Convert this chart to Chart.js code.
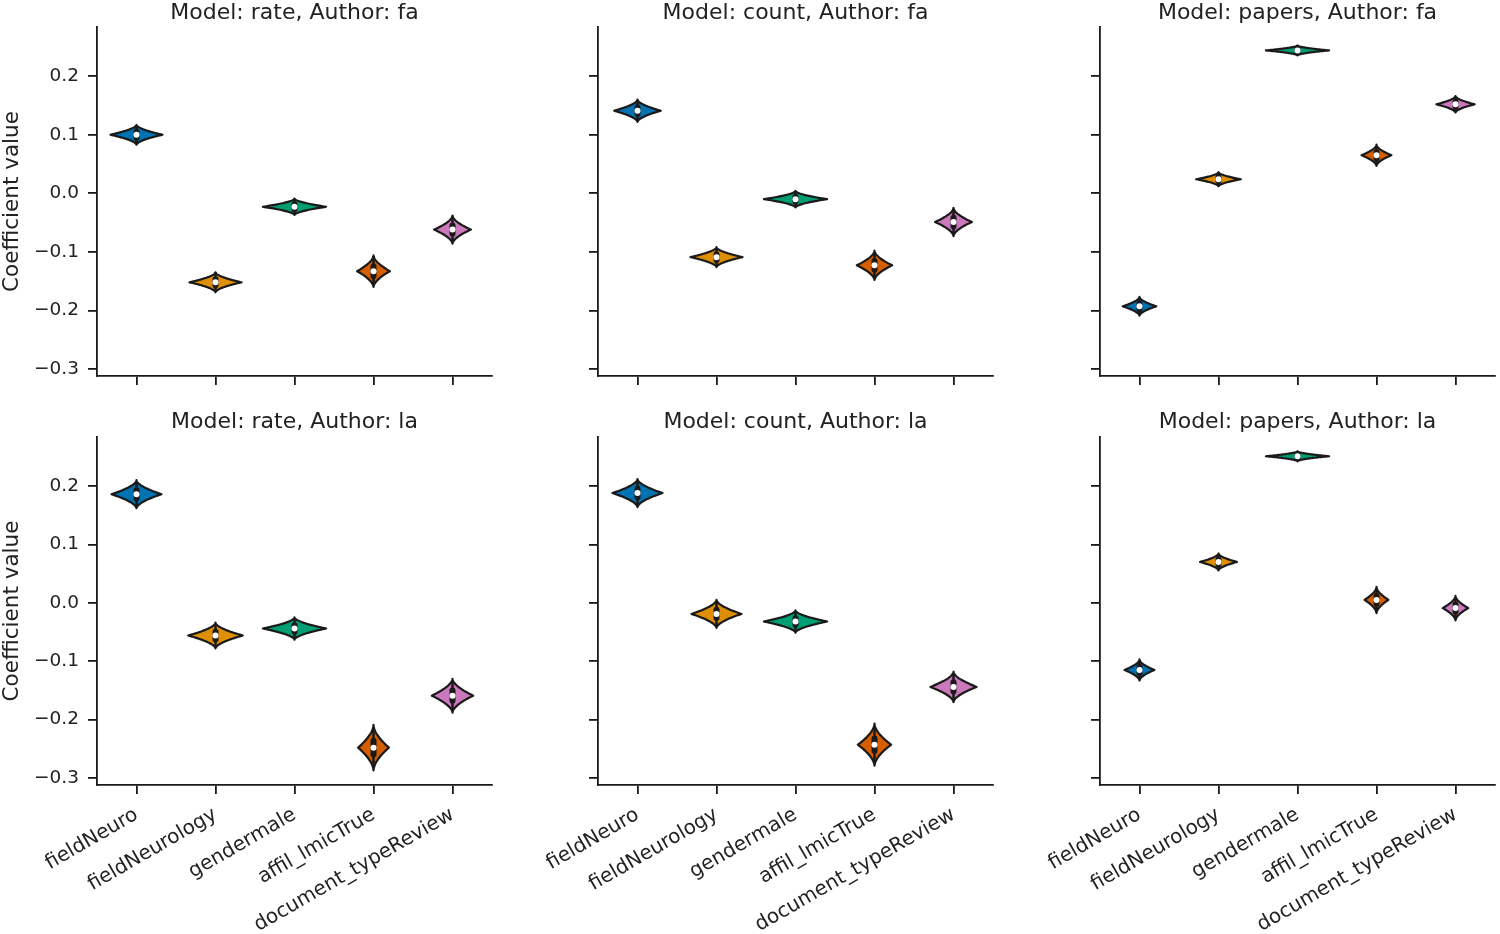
<!DOCTYPE html>
<html>
<head>
<meta charset="utf-8">
<script src="https://cdn.jsdelivr.net/npm/chart.js@4.4.1/dist/chart.umd.min.js"></script>
<style>
  html, body { margin: 0; padding: 0; background: #fff; }
  #wrap { position: relative; width: 1500px; height: 934px; background: #fff; }
  .cell { position: absolute; }
</style>
</head>
<body>
<div id="wrap"></div>
<script>
// categories and panel labels
const categories = ['fieldNeuro', 'fieldNeurology', 'gendermale', 'affil_lmicTrue', 'document_typeReview'];
const models = ['rate', 'count', 'papers'];
const authors = ['fa', 'la'];
const yTicks = [-0.3, -0.2, -0.1, 0.0, 0.1, 0.2];

// coefficient medians, one array per panel
const rateFa = [0.100, -0.152, -0.023, -0.133, -0.062];
const countFa = [0.141, -0.109, -0.010, -0.123, -0.049];
const papersFa = [-0.193, 0.024, 0.244, 0.065, 0.152];
const rateLa = [0.186, -0.056, -0.044, -0.248, -0.159];
const countLa = [0.188, -0.019, -0.032, -0.243, -0.144];
const papersLa = [-0.115, 0.070, 0.251, 0.005, -0.009];

// half extent of each posterior distribution
const rateFaSpread = [0.017, 0.017, 0.014, 0.027, 0.024];
const countFaSpread = [0.019, 0.017, 0.014, 0.025, 0.024];
const papersFaSpread = [0.016, 0.012, 0.0085, 0.018, 0.014];
const rateLaSpread = [0.024, 0.022, 0.019, 0.039, 0.029];
const countLaSpread = [0.024, 0.024, 0.019, 0.036, 0.026];
const papersLaSpread = [0.018, 0.0145, 0.0085, 0.0225, 0.021];

const palette = ['#0173b2', '#de8f05', '#029e73', '#d55e00', '#cc78bc'];

const panelValues = [[rateFa, countFa, papersFa], [rateLa, countLa, papersLa]];
const panelSpread = [[rateFaSpread, countFaSpread, papersFaSpread], [rateLaSpread, countLaSpread, papersLaSpread]];

const FONT = "'DejaVu Sans', sans-serif";
const INK = '#1a1a1a';
const colLeft = [0, 500, 1000];
const yWidth = [97, 98, 100];
const padRight = [8, 7, 5];
const rowTop = [0, 409];
const rowHeight = [409, 525];
const titleHeight = [27, 28];
const xHeight = [33, 149];

function makeViolins(values, spread) {
    return {
        id: 'violins',
        beforeDatasetsDraw(chart) {
            const ctx = chart.ctx;
            const x = chart.scales.x, y = chart.scales.y;
            const slot = x.getPixelForValue(1) - x.getPixelForValue(0);
            const minSpread = Math.min(...spread);
            ctx.save();
            values.forEach((v, i) => {
                const cx = x.getPixelForValue(i);
                const s = spread[i];
                const half = 0.4 * slot * minSpread / s;
                const n = 60;
                ctx.beginPath();
                for (let k = 0; k <= n; k++) {
                    const t = -1 + 2 * k / n;
                    const py = y.getPixelForValue(v + t * s);
                    const px = cx + half * Math.pow(1 - Math.abs(t), 1.7);
                    if (k === 0) ctx.moveTo(px, py); else ctx.lineTo(px, py);
                }
                for (let k = n; k >= 0; k--) {
                    const t = -1 + 2 * k / n;
                    const py = y.getPixelForValue(v + t * s);
                    const px = cx - half * Math.pow(1 - Math.abs(t), 1.7);
                    ctx.lineTo(px, py);
                }
                ctx.closePath();
                ctx.fillStyle = palette[i];
                ctx.fill();
                ctx.lineWidth = 2.2;
                ctx.strokeStyle = INK;
                ctx.lineJoin = 'round';
                ctx.stroke();
                // inner box
                ctx.beginPath();
                ctx.lineWidth = 2.5;
                ctx.lineCap = 'round';
                ctx.moveTo(cx, y.getPixelForValue(v + 0.85 * s));
                ctx.lineTo(cx, y.getPixelForValue(v - 0.85 * s));
                ctx.stroke();
                ctx.beginPath();
                ctx.lineWidth = 6;
                ctx.moveTo(cx, y.getPixelForValue(v + 0.3 * s));
                ctx.lineTo(cx, y.getPixelForValue(v - 0.3 * s));
                ctx.stroke();
            });
            ctx.restore();
        }
    };
}

const wrap = document.getElementById('wrap');
const charts = [];

authors.forEach((author, r) => {
    models.forEach((model, c) => {
        const div = document.createElement('div');
        div.className = 'cell';
        div.style.left = colLeft[c] + 'px';
        div.style.top = rowTop[r] + 'px';
        div.style.width = '500px';
        div.style.height = rowHeight[r] + 'px';
        const canvas = document.createElement('canvas');
        canvas.width = 500;
        canvas.height = rowHeight[r];
        canvas.style.width = '500px';
        canvas.style.height = rowHeight[r] + 'px';
        div.appendChild(canvas);
        wrap.appendChild(div);

        const values = panelValues[r][c];
        const spread = panelSpread[r][c];

        const chart = new Chart(canvas.getContext('2d'), {
            type: 'line',
            data: {
                labels: categories,
                datasets: [{
                    label: 'median',
                    data: values,
                    showLine: false,
                    pointRadius: 3,
                    pointBackgroundColor: '#ffffff',
                    pointBorderWidth: 0
                }]
            },
            options: {
                responsive: false,
                animation: false,
                layout: { padding: { left: 0, right: padRight[c], top: 0, bottom: 0 } },
                scales: {
                    x: {
                        type: 'category',
                        offset: true,
                        afterFit: scale => { scale.height = xHeight[r]; },
                        border: { display: true, color: INK, width: 1.8 },
                        grid: {
                            display: true, offset: false, drawOnChartArea: false,
                            drawTicks: true, tickLength: 9, color: INK, lineWidth: 1.8
                        },
                        ticks: {
                            display: r === 1,
                            autoSkip: false,
                            minRotation: 30,
                            maxRotation: 30,
                            padding: 9,
                            color: '#222',
                            font: { family: FONT, size: 20 }
                        }
                    },
                    // top axis only carries the panel title, centred over the plot area
                    xTop: {
                        type: 'category',
                        position: 'top',
                        offset: true,
                        afterFit: scale => { scale.height = titleHeight[r]; },
                        border: { display: false },
                        grid: { display: false, drawTicks: false },
                        ticks: { display: false },
                        title: {
                            display: true,
                            text: 'Model: ' + model + ', Author: ' + author,
                            color: '#222',
                            padding: { top: 0, bottom: 0 },
                            font: { family: FONT, size: 22 }
                        }
                    },
                    y: {
                        type: 'linear',
                        min: -0.312,
                        max: 0.284,
                        afterFit: scale => { scale.width = yWidth[c]; },
                        afterBuildTicks: scale => { scale.ticks = yTicks.map(v => ({ value: v })); },
                        border: { display: true, color: INK, width: 1.8 },
                        grid: {
                            display: true, drawOnChartArea: false,
                            drawTicks: true, tickLength: 9, color: INK, lineWidth: 1.8
                        },
                        ticks: {
                            display: c === 0,
                            padding: 9,
                            color: '#222',
                            font: { family: FONT, size: 18.5 },
                            callback: v => (v < 0 ? '\u2212' : '') + Math.abs(v).toFixed(1)
                        },
                        title: {
                            display: c === 0,
                            text: 'Coefficient value',
                            color: '#222',
                            padding: { top: 0, bottom: 0 },
                            font: { family: FONT, size: 21.5 }
                        }
                    }
                },
                plugins: {
                    legend: { display: false },
                    tooltip: { enabled: false },
                    title: { display: false }
                }
            },
            plugins: [makeViolins(values, spread)]
        });
        charts.push(chart);
    });
});
</script>
</body>
</html>
